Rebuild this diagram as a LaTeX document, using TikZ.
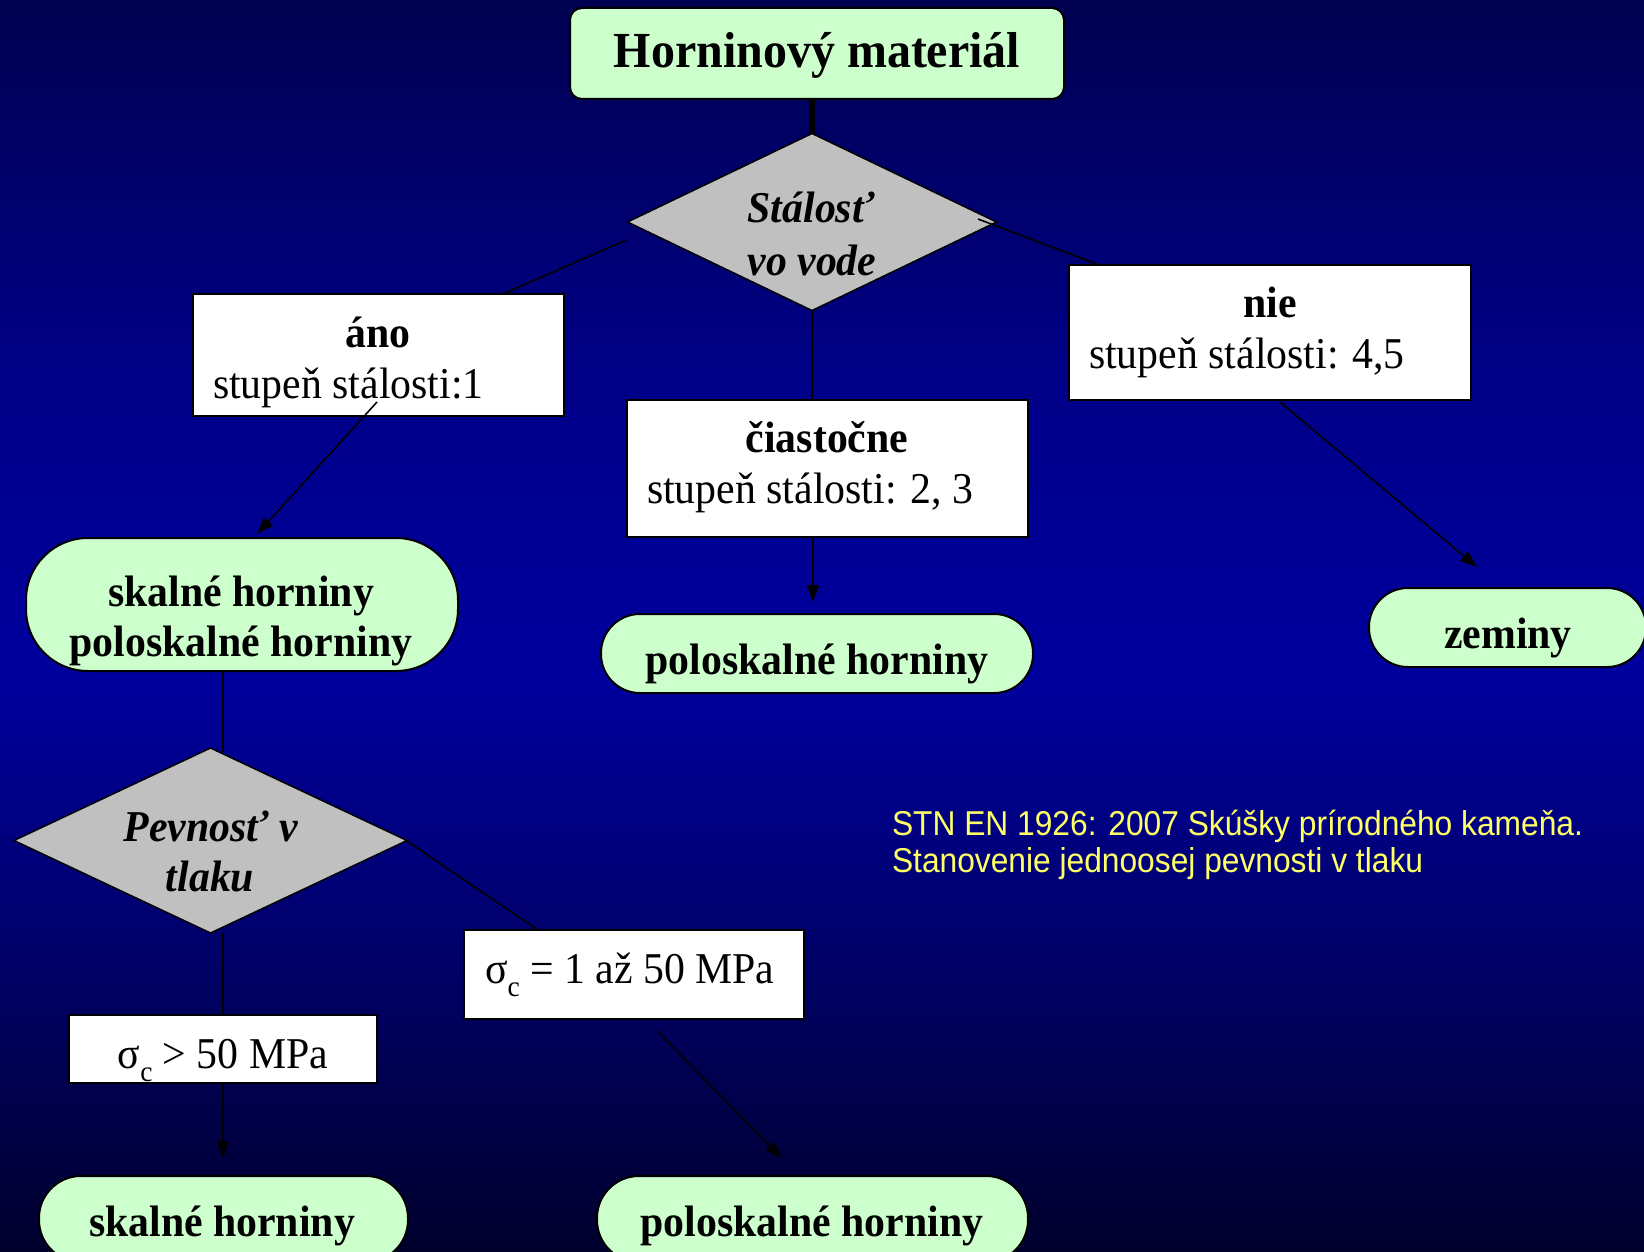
\documentclass[tikz,border=0pt]{standalone}
\usepackage{fontspec}
\setmainfont[FakeStretch=0.95]{Liberation Serif}
\newfontfamily\notefont[FakeStretch=0.92]{Liberation Sans}
\usetikzlibrary{shapes.geometric,arrows.meta}
\definecolor{bgtop}{RGB}{0,0,80}
\definecolor{bgup}{RGB}{0,0,135}
\definecolor{bgmid}{RGB}{0,0,158}
\definecolor{bglow}{RGB}{0,0,105}
\definecolor{bgbot}{RGB}{0,0,45}
\definecolor{pillgreen}{RGB}{204,255,204}
\definecolor{diagray}{RGB}{192,192,192}
\definecolor{noteyellow}{RGB}{255,255,102}
\pgfdeclareverticalshading{bgshade}{100bp}{color(0bp)=(bgbot); color(25bp)=(bgbot); color(37bp)=(bglow); color(48bp)=(bgmid); color(60bp)=(bgup); color(75bp)=(bgtop); color(100bp)=(bgtop)}
\newcommand{\sigc}{σ\raisebox{-0.3em}{\fontsize{29}{29}\selectfont c}}
\begin{document}
\begin{tikzpicture}[x=1pt,y=-1pt,
  every node/.style={inner sep=0pt, outer sep=0pt},
  txt/.style={font=\fontsize{44}{52}\selectfont, text=black},
  txtb/.style={font=\fontsize{44}{52}\selectfont\bfseries, text=black},
  txtbi/.style={font=\fontsize{44}{52}\selectfont\bfseries\itshape, text=black},
  titletxt/.style={font=\fontsize{50.5}{58}\selectfont\bfseries, text=black},
  notetxt/.style={font=\notefont\fontsize{34.5}{40}\selectfont, text=noteyellow},
  whitebox/.style={rectangle, draw=black, line width=2pt, fill=white},
  pill/.style={rectangle, draw=black, line width=2pt, fill=pillgreen},
  decision/.style={diamond, draw=black, line width=1.5pt, fill=diagray},
  conn/.style={draw=black, line width=1.6pt},
  arr/.style={conn, -{Triangle[length=17pt,width=12pt]}},
  thickconn/.style={draw=black, line width=6pt}
]
\useasboundingbox (0,0) rectangle (1644,1252);
\clip (0,0) rectangle (1644,1252);
\shade[shading=bgshade] (0,0) rectangle (1644,1252);

% ---- shapes ----
\node[pill, rounded corners=12pt, minimum width=494, minimum height=91] (top) at (817,53.5) {};
\node[decision, minimum width=369, minimum height=177] (d1) at (812,222) {};
\node[whitebox, minimum width=371, minimum height=122] (ano) at (378.5,355) {};
\node[whitebox, minimum width=401, minimum height=137] (cias) at (827.5,468.5) {};
\node[whitebox, minimum width=402, minimum height=135] (nie) at (1270,332.5) {};
\node[pill, rounded corners=62pt, minimum width=432, minimum height=133] (p1) at (242,604.5) {};
\node[pill, rounded corners=39pt, minimum width=432, minimum height=79] (pmid) at (817,653.5) {};
\node[pill, rounded corners=39pt, minimum width=277, minimum height=79] (zem) at (1507.5,627.5) {};
\node[decision, minimum width=393, minimum height=185] (d2) at (210.5,840.5) {};
\node[whitebox, minimum width=308, minimum height=68] (s1) at (223,1049) {};
\node[whitebox, minimum width=340, minimum height=89] (s2) at (634,974.5) {};
\node[pill, rounded corners=42pt, minimum width=369, minimum height=86] (pbl) at (223.5,1219) {};
\node[pill, rounded corners=42pt, minimum width=431, minimum height=86] (pbr) at (812.5,1219) {};

% ---- connector end points ----
\coordinate (c1a) at (626,240);
\coordinate (c1b) at (503,294);
\coordinate (c2a) at (978,219);
\coordinate (c2b) at (1099,265);
\coordinate (c3a) at (377,402);
\coordinate (c3b) at (257,534);
\coordinate (c4b) at (813,602);
\coordinate (c5a) at (1280,402);
\coordinate (c5b) at (1477,567);
\coordinate (c6a) at (223,671);
\coordinate (c6b) at (223,752);
\coordinate (c7a) at (407,841);
\coordinate (c7b) at (538,930);
\coordinate (c8a) at (223,933);
\coordinate (c9b) at (223,1158);
\coordinate (c10a) at (657,1031);
\coordinate (c10b) at (782,1158);

% ---- connectors ----
\draw[thickconn] (top.south -| d1.north) -- (d1.north);
\draw[conn] (c1a) -- (c1b);
\draw[conn] (c2a) -- (c2b);
\draw[conn] (d1.south) -- (cias.north -| d1.south);
\draw[arr] (c3a) -- (c3b);
\draw[arr] (cias.south -| c4b) -- (c4b);
\draw[arr] (c5a) -- (c5b);
\draw[conn] (c6a) -- (c6b);
\draw[conn] (c7a) -- (c7b);
\draw[conn] (c8a) -- (s1.north);
\draw[arr] (s1.south) -- (c9b);
\draw[arr] (c10a) -- (c10b);

% ---- texts ----
\node[titletxt, anchor=base] (ttop) at (817,68) {Horninový materiál};
\node[txtbi, anchor=base] (td1a) at (811,223) {Stálosť};
\node[txtbi, anchor=base] (td1b) at (812,275) {vo vode};
\node[txtb, anchor=base] (tano1) at (378,347) {áno};
\node[txt, anchor=base west] (tano2) at (213,398) {stupeň stálosti:1};
\node[txtb, anchor=base] (tcias1) at (827,452) {čiastočne};
\node[txt, anchor=base west] (tcias2) at (647,503) {stupeň stálosti: 2, 3};
\node[txtb, anchor=base] (tnie1) at (1270,317) {nie};
\node[txt, anchor=base west] (tnie2) at (1089,368) {stupeň stálosti: 4,5};
\node[txtb, anchor=base] (tp1a) at (241,606) {skalné horniny};
\node[txtb, anchor=base] (tp1b) at (241,656) {poloskalné horniny};
\node[txtb, anchor=base] (tpmid) at (817,674) {poloskalné horniny};
\node[txtb, anchor=base] (tzem) at (1508,648) {zeminy};
\node[txtbi, anchor=base] (td2a) at (211,841) {Pevnosť v};
\node[txtbi, anchor=base] (td2b) at (210,891) {tlaku};
\node[txt, anchor=base] (ts1) at (223,1068) {\sigc{} > 50 MPa};
\node[txt, anchor=base west] (ts2) at (485,983) {\sigc{} = 1 až 50 MPa};
\node[txtb, anchor=base] (tpbl) at (222,1236) {skalné horniny};
\node[txtb, anchor=base] (tpbr) at (812,1236) {poloskalné horniny};
\node[notetxt, anchor=base west] (note1) at (892,835) {STN EN 1926: 2007 Skúšky prírodného kameňa.};
\node[notetxt, anchor=base west] (note2) at (892,872) {Stanovenie jednoosej pevnosti v tlaku};
\end{tikzpicture}
\end{document}
